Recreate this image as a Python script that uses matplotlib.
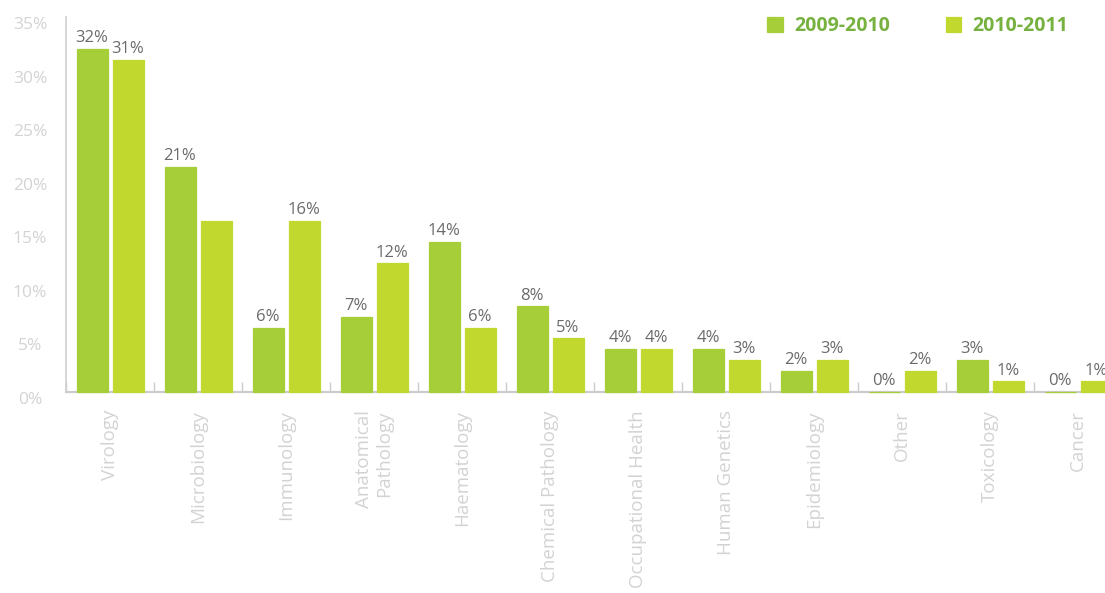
import matplotlib
matplotlib.use("Agg")
import matplotlib.pyplot as plt
from matplotlib.transforms import ScaledTranslation
import numpy as np

plt.rcParams["font.family"] = ["Open Sans", "DejaVu Sans"]

# Share of projects by discipline, two reporting years (percent)
categories = ["Virology", "Microbiology", "Immunology", "Anatomical\nPathology",
              "Haematology", "Chemical Pathology", "Occupational Health",
              "Human Genetics", "Epidemiology", "Other", "Toxicology", "Cancer"]
series_names = ["2009-2010", "2010-2011"]
values_2009_2010 = [32, 21, 6, 7, 14, 8, 4, 4, 2, 0, 3, 0]
values_2010_2011 = [31, 16, 16, 12, 6, 5, 4, 3, 3, 2, 1, 1]
# which bars carry a value label
labelled_2009_2010 = [True] * 12
labelled_2010_2011 = [True, False] + [True] * 10
y_ticks = [0, 5, 10, 15, 20, 25, 30, 35]

colors = ["#A6CE39", "#C1D82F"]
legend_text_color = "#77B140"
value_color = "#6B6B6B"
axis_text_color = "#D3D3D3"
axis_line_color = "#D0D0D0"

fig = plt.figure(figsize=(11.05, 5.93), dpi=100)
W, H = 1105, 593
ax = fig.add_axes([66 / W, 201 / H, 1056 / W, 375 / H])

x = np.arange(len(categories))
width = 31 / 88
offset = 18 / 88

all_vals = [values_2009_2010, values_2010_2011]
all_flags = [labelled_2009_2010, labelled_2010_2011]
for k, (vals, flags) in enumerate(zip(all_vals, all_flags)):
    bars = ax.bar(x + (2 * k - 1) * offset, vals, width, color=colors[k],
                  edgecolor=colors[k], linewidth=0.9, label=series_names[k],
                  zorder=4, clip_on=False)
    ax.bar_label(bars, labels=[f"{v:.0f}%" if f else "" for v, f in zip(vals, flags)],
                 padding=2, color=value_color, fontsize=12)

ax.set_xlim(-0.5, len(categories) - 0.5)
ax.set_ylim(0, 35)

# spines
for s in ["top", "right"]:
    ax.spines[s].set_visible(False)
ax.spines["left"].set_color(axis_line_color)
ax.spines["left"].set_linewidth(1.2)
ax.spines["bottom"].set_color("#CCCCCC")
ax.spines["bottom"].set_linewidth(1.6)
ax.spines["bottom"].set_zorder(3)

# category labels
ax.set_xticks(x)
ax.set_xticklabels(categories, rotation=90, fontsize=13.5, color=axis_text_color)
for lbl in ax.get_xticklabels():
    lbl.set_multialignment("right")
ax.tick_params(axis="x", which="major", length=0, pad=13)
ax.set_xticks(np.arange(len(categories) + 1) - 0.5, minor=True)
ax.tick_params(axis="x", which="minor", direction="in", length=7,
               width=1, color="#CCCCCC")

# y tick labels, centred in the left margin
ax.set_yticks(y_ticks)
ax.tick_params(axis="y", length=0, labelleft=False)
ytrans = ax.get_yaxis_transform() + ScaledTranslation(-0.36, -0.08, fig.dpi_scale_trans)
for t in y_ticks:
    ax.text(0, t, f"{t}%", transform=ytrans, ha="center", va="center",
            fontsize=12.5, color=axis_text_color)

leg = ax.legend(loc="upper left", bbox_to_anchor=(767 / W, 1 - 16 / H),
                bbox_transform=fig.transFigure, ncol=2, frameon=False,
                handlelength=0.8, handleheight=0.8, handletextpad=0.6,
                columnspacing=2.85, borderpad=0, borderaxespad=0,
                prop={"weight": "bold", "size": 14})
for txt in leg.get_texts():
    txt.set_color(legend_text_color)

fig.savefig("out.png", dpi=100)
